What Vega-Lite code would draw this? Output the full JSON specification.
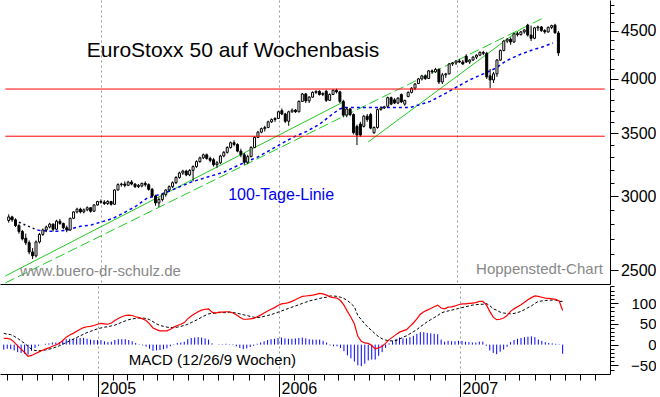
{
"$schema": "https://vega.github.io/schema/vega-lite/v6.json",
"padding": 0,
"spacing": 0,
"background": "#ffffff",
"config": {"view": {"stroke": null}, "font": "Liberation Sans", "axis": {"labelFont": "Liberation Sans", "labelColor": "#000000", "tickColor": "#000000", "domainColor": "#000000"}},
"datasets": {
"w": [
{"d":"2004-06-25","o":2825,"h":2868,"l":2810,"c":2850,"m":15,"s":27,"g":-12},
{"d":"2004-07-02","o":2850,"h":2858,"l":2815,"c":2830,"m":15,"s":25,"g":-10},
{"d":"2004-07-09","o":2830,"h":2840,"l":2780,"c":2790,"m":13,"s":24,"g":-11},
{"d":"2004-07-16","o":2790,"h":2800,"l":2735,"c":2750,"m":6,"s":20,"g":-14},
{"d":"2004-07-23","o":2750,"h":2760,"l":2690,"c":2700,"m":-3,"s":15,"g":-18},
{"d":"2004-07-30","o":2705,"h":2735,"l":2660,"c":2675,"m":-11,"s":9,"g":-20},
{"d":"2004-08-06","o":2675,"h":2690,"l":2600,"c":2615,"m":-19,"s":3,"g":-22},
{"d":"2004-08-13","o":2615,"h":2640,"l":2570,"c":2590,"m":-28,"s":-4,"g":-24},
{"d":"2004-08-20","o":2590,"h":2690,"l":2580,"c":2680,"m":-26,"s":-11,"g":-15},
{"d":"2004-08-27","o":2680,"h":2740,"l":2670,"c":2730,"m":-22,"s":-14,"g":-8},
{"d":"2004-09-03","o":2730,"h":2770,"l":2720,"c":2760,"m":-18,"s":-15,"g":-3},
{"d":"2004-09-10","o":2760,"h":2790,"l":2745,"c":2780,"m":-14,"s":-14,"g":0},
{"d":"2004-09-17","o":2780,"h":2810,"l":2770,"c":2800,"m":-11,"s":-13,"g":2},
{"d":"2004-09-24","o":2800,"h":2805,"l":2750,"c":2765,"m":-8,"s":-11,"g":3},
{"d":"2004-10-01","o":2765,"h":2830,"l":2760,"c":2820,"m":-4,"s":-9,"g":5},
{"d":"2004-10-08","o":2820,"h":2835,"l":2795,"c":2805,"m":-1,"s":-6,"g":5},
{"d":"2004-10-15","o":2805,"h":2810,"l":2765,"c":2775,"m":3,"s":-3,"g":6},
{"d":"2004-10-22","o":2775,"h":2790,"l":2745,"c":2760,"m":10,"s":1,"g":9},
{"d":"2004-10-29","o":2760,"h":2845,"l":2755,"c":2840,"m":18,"s":5,"g":13},
{"d":"2004-11-05","o":2840,"h":2890,"l":2835,"c":2885,"m":23,"s":9,"g":14},
{"d":"2004-11-12","o":2885,"h":2915,"l":2875,"c":2905,"m":27,"s":13,"g":14},
{"d":"2004-11-19","o":2905,"h":2915,"l":2875,"c":2885,"m":32,"s":17,"g":15},
{"d":"2004-11-26","o":2885,"h":2910,"l":2875,"c":2900,"m":37,"s":21,"g":16},
{"d":"2004-12-03","o":2900,"h":2925,"l":2890,"c":2915,"m":41,"s":25,"g":16},
{"d":"2004-12-10","o":2915,"h":2920,"l":2880,"c":2890,"m":43,"s":29,"g":14},
{"d":"2004-12-17","o":2890,"h":2940,"l":2885,"c":2935,"m":44,"s":32,"g":12},
{"d":"2004-12-24","o":2935,"h":2965,"l":2930,"c":2960,"m":46,"s":35,"g":11},
{"d":"2004-12-31","o":2960,"h":2975,"l":2945,"c":2955,"m":49,"s":38,"g":11},
{"d":"2005-01-07","o":2955,"h":2970,"l":2935,"c":2945,"m":51,"s":40,"g":11},
{"d":"2005-01-14","o":2945,"h":2970,"l":2935,"c":2960,"m":50,"s":42,"g":8},
{"d":"2005-01-21","o":2960,"h":2965,"l":2930,"c":2940,"m":49,"s":43,"g":6},
{"d":"2005-01-28","o":2940,"h":3050,"l":2935,"c":3045,"m":52,"s":45,"g":7},
{"d":"2005-02-04","o":3045,"h":3095,"l":3040,"c":3085,"m":58,"s":47,"g":11},
{"d":"2005-02-11","o":3085,"h":3100,"l":3070,"c":3090,"m":63,"s":50,"g":13},
{"d":"2005-02-18","o":3090,"h":3110,"l":3065,"c":3080,"m":67,"s":54,"g":13},
{"d":"2005-02-25","o":3080,"h":3115,"l":3075,"c":3105,"m":70,"s":57,"g":13},
{"d":"2005-03-04","o":3105,"h":3120,"l":3080,"c":3090,"m":71,"s":60,"g":11},
{"d":"2005-03-11","o":3090,"h":3095,"l":3060,"c":3070,"m":70,"s":62,"g":8},
{"d":"2005-03-18","o":3070,"h":3090,"l":3060,"c":3080,"m":67,"s":63,"g":4},
{"d":"2005-03-25","o":3075,"h":3100,"l":3065,"c":3095,"m":65,"s":64,"g":1},
{"d":"2005-04-01","o":3095,"h":3110,"l":3070,"c":3085,"m":62,"s":64,"g":-2},
{"d":"2005-04-08","o":3085,"h":3095,"l":3040,"c":3050,"m":58,"s":63,"g":-5},
{"d":"2005-04-15","o":3050,"h":3060,"l":2990,"c":3000,"m":50,"s":60,"g":-10},
{"d":"2005-04-22","o":3000,"h":3010,"l":2930,"c":2950,"m":40,"s":55,"g":-15},
{"d":"2005-04-29","o":2950,"h":2990,"l":2920,"c":2975,"m":36,"s":50,"g":-14},
{"d":"2005-05-06","o":2975,"h":3020,"l":2960,"c":3010,"m":33,"s":46,"g":-13},
{"d":"2005-05-13","o":3010,"h":3050,"l":2995,"c":3045,"m":33,"s":44,"g":-11},
{"d":"2005-05-20","o":3045,"h":3080,"l":3035,"c":3070,"m":33,"s":42,"g":-9},
{"d":"2005-05-27","o":3070,"h":3110,"l":3060,"c":3100,"m":37,"s":41,"g":-4},
{"d":"2005-06-03","o":3100,"h":3150,"l":3090,"c":3140,"m":42,"s":41,"g":1},
{"d":"2005-06-10","o":3140,"h":3185,"l":3130,"c":3175,"m":46,"s":42,"g":4},
{"d":"2005-06-17","o":3175,"h":3200,"l":3160,"c":3190,"m":49,"s":44,"g":5},
{"d":"2005-06-24","o":3190,"h":3200,"l":3150,"c":3160,"m":53,"s":46,"g":7},
{"d":"2005-07-01","o":3160,"h":3205,"l":3150,"c":3195,"m":62,"s":49,"g":13},
{"d":"2005-07-08","o":3195,"h":3235,"l":3110,"c":3225,"m":69,"s":53,"g":16},
{"d":"2005-07-15","o":3225,"h":3275,"l":3215,"c":3265,"m":74,"s":57,"g":17},
{"d":"2005-07-22","o":3265,"h":3305,"l":3255,"c":3295,"m":79,"s":61,"g":18},
{"d":"2005-07-29","o":3295,"h":3330,"l":3285,"c":3320,"m":83,"s":66,"g":17},
{"d":"2005-08-05","o":3320,"h":3330,"l":3280,"c":3290,"m":85,"s":70,"g":15},
{"d":"2005-08-12","o":3290,"h":3305,"l":3260,"c":3275,"m":86,"s":74,"g":12},
{"d":"2005-08-19","o":3280,"h":3295,"l":3225,"c":3240,"m":78,"s":75,"g":3},
{"d":"2005-08-26","o":3240,"h":3270,"l":3215,"c":3255,"m":76,"s":76,"g":0},
{"d":"2005-09-02","o":3255,"h":3320,"l":3245,"c":3310,"m":78,"s":77,"g":1},
{"d":"2005-09-09","o":3310,"h":3350,"l":3300,"c":3340,"m":78,"s":77,"g":1},
{"d":"2005-09-16","o":3340,"h":3390,"l":3330,"c":3380,"m":79,"s":77,"g":2},
{"d":"2005-09-23","o":3380,"h":3430,"l":3370,"c":3420,"m":79,"s":78,"g":1},
{"d":"2005-09-30","o":3420,"h":3440,"l":3390,"c":3405,"m":76,"s":77,"g":-1},
{"d":"2005-10-07","o":3405,"h":3415,"l":3340,"c":3350,"m":72,"s":76,"g":-4},
{"d":"2005-10-14","o":3350,"h":3370,"l":3300,"c":3320,"m":66,"s":74,"g":-8},
{"d":"2005-10-21","o":3320,"h":3335,"l":3240,"c":3260,"m":61,"s":72,"g":-11},
{"d":"2005-10-28","o":3260,"h":3320,"l":3245,"c":3305,"m":61,"s":70,"g":-9},
{"d":"2005-11-04","o":3305,"h":3390,"l":3300,"c":3380,"m":62,"s":68,"g":-6},
{"d":"2005-11-11","o":3380,"h":3475,"l":3375,"c":3465,"m":63,"s":66,"g":-3},
{"d":"2005-11-18","o":3465,"h":3520,"l":3460,"c":3510,"m":67,"s":65,"g":2},
{"d":"2005-11-25","o":3510,"h":3550,"l":3500,"c":3540,"m":71,"s":66,"g":5},
{"d":"2005-12-02","o":3540,"h":3565,"l":3515,"c":3550,"m":76,"s":68,"g":8},
{"d":"2005-12-09","o":3550,"h":3610,"l":3545,"c":3600,"m":81,"s":70,"g":11},
{"d":"2005-12-16","o":3600,"h":3630,"l":3590,"c":3620,"m":85,"s":72,"g":13},
{"d":"2005-12-23","o":3620,"h":3640,"l":3600,"c":3630,"m":89,"s":75,"g":14},
{"d":"2005-12-30","o":3630,"h":3700,"l":3625,"c":3690,"m":94,"s":78,"g":16},
{"d":"2006-01-06","o":3700,"h":3720,"l":3660,"c":3670,"m":98,"s":81,"g":17},
{"d":"2006-01-13","o":3670,"h":3680,"l":3590,"c":3605,"m":99,"s":84,"g":15},
{"d":"2006-01-20","o":3605,"h":3700,"l":3565,"c":3690,"m":101,"s":87,"g":14},
{"d":"2006-01-27","o":3690,"h":3720,"l":3680,"c":3705,"m":104,"s":90,"g":14},
{"d":"2006-02-03","o":3705,"h":3715,"l":3680,"c":3690,"m":108,"s":93,"g":15},
{"d":"2006-02-10","o":3690,"h":3795,"l":3685,"c":3785,"m":112,"s":96,"g":16},
{"d":"2006-02-17","o":3785,"h":3865,"l":3780,"c":3855,"m":116,"s":99,"g":17},
{"d":"2006-02-24","o":3855,"h":3865,"l":3770,"c":3790,"m":117,"s":102,"g":15},
{"d":"2006-03-03","o":3790,"h":3835,"l":3770,"c":3825,"m":118,"s":105,"g":13},
{"d":"2006-03-10","o":3825,"h":3880,"l":3820,"c":3870,"m":119,"s":107,"g":12},
{"d":"2006-03-17","o":3870,"h":3890,"l":3855,"c":3880,"m":121,"s":109,"g":12},
{"d":"2006-03-24","o":3880,"h":3890,"l":3840,"c":3850,"m":123,"s":111,"g":12},
{"d":"2006-03-31","o":3850,"h":3870,"l":3835,"c":3860,"m":122,"s":113,"g":9},
{"d":"2006-04-07","o":3880,"h":3895,"l":3780,"c":3795,"m":119,"s":114,"g":5},
{"d":"2006-04-14","o":3795,"h":3860,"l":3790,"c":3850,"m":115,"s":117,"g":-2},
{"d":"2006-04-21","o":3850,"h":3900,"l":3845,"c":3890,"m":113,"s":117,"g":-4},
{"d":"2006-04-28","o":3890,"h":3905,"l":3860,"c":3875,"m":112,"s":116,"g":-4},
{"d":"2006-05-05","o":3875,"h":3885,"l":3770,"c":3785,"m":106,"s":114,"g":-8},
{"d":"2006-05-12","o":3785,"h":3800,"l":3640,"c":3660,"m":95,"s":111,"g":-16},
{"d":"2006-05-19","o":3660,"h":3730,"l":3640,"c":3715,"m":80,"s":106,"g":-26},
{"d":"2006-05-26","o":3715,"h":3725,"l":3650,"c":3665,"m":66,"s":99,"g":-33},
{"d":"2006-06-02","o":3665,"h":3675,"l":3490,"c":3505,"m":50,"s":91,"g":-41},
{"d":"2006-06-09","o":3560,"h":3575,"l":3400,"c":3485,"m":20,"s":70,"g":-50},
{"d":"2006-06-16","o":3580,"h":3600,"l":3470,"c":3485,"m":8,"s":60,"g":-52},
{"d":"2006-06-23","o":3560,"h":3660,"l":3550,"c":3650,"m":4,"s":50,"g":-46},
{"d":"2006-06-30","o":3650,"h":3670,"l":3600,"c":3620,"m":3,"s":41,"g":-38},
{"d":"2006-07-07","o":3665,"h":3680,"l":3535,"c":3545,"m":-2,"s":34,"g":-36},
{"d":"2006-07-14","o":3505,"h":3560,"l":3495,"c":3550,"m":-10,"s":26,"g":-36},
{"d":"2006-07-21","o":3550,"h":3720,"l":3540,"c":3710,"m":-8,"s":19,"g":-27},
{"d":"2006-07-28","o":3710,"h":3740,"l":3700,"c":3725,"m":-4,"s":14,"g":-18},
{"d":"2006-08-04","o":3725,"h":3745,"l":3715,"c":3735,"m":3,"s":11,"g":-8},
{"d":"2006-08-11","o":3740,"h":3830,"l":3735,"c":3820,"m":12,"s":9,"g":3},
{"d":"2006-08-18","o":3820,"h":3830,"l":3750,"c":3760,"m":18,"s":9,"g":9},
{"d":"2006-08-25","o":3800,"h":3815,"l":3760,"c":3770,"m":24,"s":10,"g":14},
{"d":"2006-09-01","o":3770,"h":3825,"l":3760,"c":3815,"m":30,"s":13,"g":17},
{"d":"2006-09-08","o":3850,"h":3860,"l":3770,"c":3780,"m":33,"s":18,"g":15},
{"d":"2006-09-15","o":3760,"h":3800,"l":3745,"c":3795,"m":36,"s":21,"g":15},
{"d":"2006-09-22","o":3830,"h":3880,"l":3825,"c":3870,"m":44,"s":26,"g":18},
{"d":"2006-09-29","o":3870,"h":3920,"l":3860,"c":3910,"m":52,"s":31,"g":21},
{"d":"2006-10-06","o":3910,"h":3960,"l":3890,"c":3950,"m":62,"s":36,"g":26},
{"d":"2006-10-13","o":3955,"h":4010,"l":3950,"c":4000,"m":73,"s":43,"g":30},
{"d":"2006-10-20","o":4000,"h":4040,"l":3985,"c":4030,"m":79,"s":49,"g":30},
{"d":"2006-10-27","o":4030,"h":4045,"l":3990,"c":4005,"m":83,"s":55,"g":28},
{"d":"2006-11-03","o":4005,"h":4090,"l":4000,"c":4080,"m":87,"s":60,"g":27},
{"d":"2006-11-10","o":4080,"h":4095,"l":4050,"c":4070,"m":91,"s":65,"g":26},
{"d":"2006-11-17","o":4070,"h":4110,"l":4060,"c":4095,"m":95,"s":70,"g":25},
{"d":"2006-11-24","o":4095,"h":4105,"l":3950,"c":3970,"m":88,"s":76,"g":12},
{"d":"2006-12-01","o":3970,"h":4060,"l":3950,"c":4040,"m":86,"s":79,"g":7},
{"d":"2006-12-08","o":4040,"h":4060,"l":4010,"c":4050,"m":90,"s":81,"g":9},
{"d":"2006-12-15","o":4050,"h":4160,"l":4045,"c":4150,"m":91,"s":83,"g":8},
{"d":"2006-12-22","o":4150,"h":4170,"l":4130,"c":4160,"m":93,"s":85,"g":8},
{"d":"2006-12-29","o":4160,"h":4190,"l":4140,"c":4180,"m":96,"s":87,"g":9},
{"d":"2007-01-05","o":4180,"h":4200,"l":4160,"c":4170,"m":98,"s":89,"g":9},
{"d":"2007-01-12","o":4170,"h":4190,"l":4140,"c":4150,"m":98,"s":91,"g":7},
{"d":"2007-01-19","o":4230,"h":4250,"l":4160,"c":4170,"m":99,"s":93,"g":6},
{"d":"2007-01-26","o":4170,"h":4200,"l":4150,"c":4190,"m":100,"s":95,"g":5},
{"d":"2007-02-02","o":4190,"h":4230,"l":4180,"c":4220,"m":101,"s":96,"g":5},
{"d":"2007-02-09","o":4220,"h":4250,"l":4200,"c":4240,"m":104,"s":97,"g":7},
{"d":"2007-02-16","o":4240,"h":4280,"l":4230,"c":4270,"m":104,"s":97,"g":7},
{"d":"2007-02-23","o":4270,"h":4285,"l":4240,"c":4260,"m":96,"s":99,"g":-3},
{"d":"2007-03-02","o":4260,"h":4275,"l":4000,"c":4020,"m":80,"s":94,"g":-14},
{"d":"2007-03-09","o":4030,"h":4100,"l":3910,"c":3990,"m":66,"s":86,"g":-20},
{"d":"2007-03-16","o":3990,"h":4070,"l":3960,"c":4050,"m":60,"s":83,"g":-23},
{"d":"2007-03-23","o":4050,"h":4200,"l":4020,"c":4190,"m":61,"s":78,"g":-17},
{"d":"2007-03-30","o":4190,"h":4300,"l":4180,"c":4290,"m":64,"s":76,"g":-12},
{"d":"2007-04-06","o":4290,"h":4400,"l":4280,"c":4390,"m":70,"s":75,"g":-5},
{"d":"2007-04-13","o":4390,"h":4420,"l":4370,"c":4410,"m":80,"s":74,"g":6},
{"d":"2007-04-20","o":4410,"h":4430,"l":4350,"c":4380,"m":86,"s":75,"g":11},
{"d":"2007-04-27","o":4380,"h":4480,"l":4370,"c":4470,"m":91,"s":77,"g":14},
{"d":"2007-05-04","o":4470,"h":4490,"l":4440,"c":4460,"m":96,"s":80,"g":16},
{"d":"2007-05-11","o":4460,"h":4500,"l":4450,"c":4490,"m":102,"s":84,"g":18},
{"d":"2007-05-18","o":4490,"h":4520,"l":4470,"c":4510,"m":108,"s":89,"g":19},
{"d":"2007-05-25","o":4565,"h":4580,"l":4440,"c":4455,"m":113,"s":93,"g":20},
{"d":"2007-06-01","o":4455,"h":4560,"l":4390,"c":4420,"m":117,"s":99,"g":18},
{"d":"2007-06-08","o":4420,"h":4545,"l":4410,"c":4535,"m":116,"s":104,"g":12},
{"d":"2007-06-15","o":4535,"h":4560,"l":4500,"c":4545,"m":114,"s":105,"g":9},
{"d":"2007-06-22","o":4545,"h":4555,"l":4490,"c":4505,"m":112,"s":106,"g":6},
{"d":"2007-06-29","o":4505,"h":4520,"l":4470,"c":4490,"m":111,"s":107,"g":4},
{"d":"2007-07-06","o":4490,"h":4550,"l":4480,"c":4540,"m":110,"s":107,"g":3},
{"d":"2007-07-13","o":4540,"h":4570,"l":4520,"c":4560,"m":109,"s":107,"g":2},
{"d":"2007-07-20","o":4565,"h":4580,"l":4470,"c":4480,"m":105,"s":104,"g":1},
{"d":"2007-07-27","o":4478,"h":4500,"l":4233,"c":4264,"m":82,"s":104,"g":-22}
]
},
"vconcat": [
{
"width": 610,
"height": 284,
"encoding": {
  "x": {"field": "d", "type": "temporal", "title": null, "scale": {"domain": [{"year": 2004, "month": 6, "date": 17, "hours": 10}, {"year": 2007, "month": 10, "date": 30, "hours": 12}]},
    "axis": {"values": [{"year": 2005, "month": 1, "date": 1}, {"year": 2006, "month": 1, "date": 1}, {"year": 2007, "month": 1, "date": 1}], "grid": true, "gridColor": "#999999", "gridDash": [2, 3], "ticks": false, "labels": false, "domain": true, "title": null}},
  "y": {"field": "v", "type": "quantitative", "title": null, "scale": {"type": "log", "domain": [2417, 4856], "nice": false, "zero": false},
    "axis": {"orient": "right", "title": null, "grid": false, "values": [2500,2600,2700,2800,2900,3000,3100,3200,3300,3400,3500,3600,3700,3800,3900,4000,4100,4200,4300,4400,4500,4600,4700,4800],
      "labelExpr": "datum.value % 500 === 0 ? format(datum.value, 'd') : ''",
      "tickSize": {"condition": {"test": "datum.value % 500 === 0", "value": 8}, "value": 4},
      "labelFontSize": {"condition": {"test": "datum.value % 500 === 0", "value": 16}, "value": 1},
      "labelAlign": "right", "labelBaseline": "middle", "labelPadding": 38, "labelOverlap": false, "labelBound": false, "labelFlush": false}}
},
"layer": [
{"data": {"values": [{"id": "A", "d": "2004-06-18", "v": 2465}, {"id": "A", "d": "2006-05-14", "v": 3785}, {"id": "D", "d": "2006-07-02", "v": 3426}, {"id": "D", "d": "2007-05-11", "v": 4522}]},
 "mark": {"type": "line", "color": "#22cc22", "strokeWidth": 1},
 "encoding": {"detail": {"field": "id"}}},
{"data": {"values": [{"d": "2004-06-18", "v": 2423}, {"d": "2007-06-30", "v": 4657}]},
 "mark": {"type": "line", "color": "#22cc22", "strokeWidth": 1, "strokeDash": [10, 4]}},
{"data": {"values": [{"d": "2004-06-27", "v": 2840}, {"d": "2004-08-23", "v": 2759}]},
 "mark": {"type": "line", "color": "#000033", "strokeWidth": 1.5, "strokeDash": [2, 3]}},
{"data": {"values": [{"d":"2004-08-23","v":2759},{"d":"2004-09-12","v":2752},{"d":"2004-10-02","v":2752},{"d":"2004-10-22","v":2759},{"d":"2004-11-19","v":2785},{"d":"2004-12-09","v":2792},{"d":"2005-01-05","v":2819},{"d":"2005-01-25","v":2840},{"d":"2005-02-14","v":2875},{"d":"2005-03-12","v":2924},{"d":"2005-04-05","v":2985},{"d":"2005-05-06","v":3017},{"d":"2005-06-01","v":3054},{"d":"2005-07-05","v":3106},{"d":"2005-08-08","v":3145},{"d":"2005-09-10","v":3183},{"d":"2005-10-14","v":3245},{"d":"2005-11-17","v":3301},{"d":"2005-12-20","v":3374},{"d":"2006-01-03","v":3407},{"d":"2006-01-29","v":3466},{"d":"2006-02-26","v":3517},{"d":"2006-03-24","v":3578},{"d":"2006-04-19","v":3666},{"d":"2006-05-03","v":3711},{"d":"2006-05-13","v":3730},{"d":"2006-08-12","v":3730},{"d":"2006-09-27","v":3730},{"d":"2006-11-06","v":3785},{"d":"2006-12-11","v":3869},{"d":"2007-01-01","v":3926},{"d":"2007-01-27","v":3993},{"d":"2007-02-24","v":4052},{"d":"2007-03-22","v":4111},{"d":"2007-04-11","v":4182},{"d":"2007-05-07","v":4243},{"d":"2007-06-04","v":4296},{"d":"2007-06-24","v":4327},{"d":"2007-07-16","v":4370}]},
 "mark": {"type": "line", "color": "#0000ff", "strokeWidth": 1.5, "strokeDash": [3, 3]}},
{"data": {"name": "w"},
 "mark": {"type": "rule", "color": "#000000", "strokeWidth": 1},
 "encoding": {
   "y": {"field": "l", "type": "quantitative", "title": null, "scale": {"type": "log", "domain": [2417, 4856], "nice": false, "zero": false}},
   "y2": {"field": "h"}}},
{"data": {"name": "w"},
 "mark": {"type": "bar", "size": 2, "stroke": "#000000", "strokeWidth": 1},
 "encoding": {
   "y": {"field": "o", "type": "quantitative", "title": null, "scale": {"type": "log", "domain": [2417, 4856], "nice": false, "zero": false}},
   "y2": {"field": "c"},
   "fill": {"condition": {"test": "datum.c < datum.o", "value": "#000000"}, "value": "#ffffff"}}},
{"data": {"values": [{"d": "2004-12-02", "v": 4225, "t": "EuroStoxx 50 auf Wochenbasis"}]},
 "mark": {"type": "text", "align": "left", "baseline": "alphabetic", "fontSize": 21, "color": "#000000"},
 "encoding": {"text": {"field": "t"}}},
{"data": {"values": [{"d": "2005-09-18", "v": 2971, "t": "100-Tage-Linie"}]},
 "mark": {"type": "text", "align": "left", "baseline": "alphabetic", "fontSize": 16, "color": "#0000ee"},
 "encoding": {"text": {"field": "t"}}},
{"data": {"values": [{"d": "2004-07-18", "v": 2465, "t": "www.buero-dr-schulz.de"}]},
 "mark": {"type": "text", "align": "left", "baseline": "alphabetic", "fontSize": 15, "color": "#888888"},
 "encoding": {"text": {"field": "t"}}},
{"data": {"values": [{"d": "2007-10-26", "v": 2476, "t": "Hoppenstedt-Chart"}]},
 "mark": {"type": "text", "align": "right", "baseline": "alphabetic", "fontSize": 15, "color": "#888888"},
 "encoding": {"text": {"field": "t"}}},
{"data": {"values": [{"d": "2004-06-18", "d2": "2007-10-30", "v": 3902}, {"d": "2004-06-18", "d2": "2007-10-30", "v": 3475}]},
 "mark": {"type": "rule", "color": "#ff0000", "strokeWidth": 1, "clip": true},
 "encoding": {"x": {"field": "d", "type": "temporal", "title": null, "scale": {"domain": [{"year": 2004, "month": 6, "date": 17, "hours": 10}, {"year": 2007, "month": 10, "date": 30, "hours": 12}]}}, "x2": {"field": "d2"}}}
]
},
{
"width": 610,
"height": 88,
"encoding": {
  "x": {"field": "d", "type": "temporal", "title": null, "scale": {"domain": [{"year": 2004, "month": 6, "date": 17, "hours": 10}, {"year": 2007, "month": 10, "date": 30, "hours": 12}]},
    "axis": {"title": null, "tickCount": {"interval": "month", "step": 1},
      "labelExpr": "month(datum.value) === 0 ? timeFormat(datum.value, '%Y') : ''",
      "tickSize": {"condition": {"test": "month(datum.value) === 0", "value": 24}, "value": 6},
      "labelFontSize": {"condition": {"test": "month(datum.value) === 0", "value": 16}, "value": 1},
      "grid": true, "gridColor": "#999999", "gridDash": [2, 3],
      "gridOpacity": {"condition": {"test": "month(datum.value) === 0", "value": 1}, "value": 0},
      "labelAlign": "left", "labelBaseline": "top", "labelOffset": 2, "labelPadding": -18, "labelOverlap": false, "labelFlush": false, "labelBound": false}},
  "y": {"field": "g", "type": "quantitative", "title": null, "scale": {"domain": [-70.7, 141], "nice": false, "zero": false},
    "axis": {"orient": "right", "title": null, "grid": false, "values": [-60,-50,-40,-30,-20,-10,0,10,20,30,40,50,60,70,80,90,100,110,120,130,140],
      "labelExpr": "datum.value % 50 === 0 ? format(datum.value, 'd') : ''",
      "tickSize": {"condition": {"test": "datum.value % 50 === 0", "value": 8}, "value": 4},
      "labelFontSize": {"condition": {"test": "datum.value % 50 === 0", "value": 15}, "value": 1},
      "labelAlign": "right", "labelBaseline": "middle", "labelPadding": 38, "labelOverlap": false, "labelBound": false, "labelFlush": false}}
},
"layer": [
{"data": {"name": "w"},
 "mark": {"type": "rule", "color": "#0000ff", "strokeWidth": 1},
 "encoding": {"y2": {"datum": 0}}},
{"data": {"name": "w"},
 "mark": {"type": "line", "color": "#000000", "strokeWidth": 1, "strokeDash": [3, 2]},
 "encoding": {"y": {"field": "s", "type": "quantitative", "title": null, "scale": {"domain": [-70.7, 141], "nice": false, "zero": false}}}},
{"data": {"name": "w"},
 "mark": {"type": "line", "color": "#ff0000", "strokeWidth": 1.2},
 "encoding": {"y": {"field": "m", "type": "quantitative", "title": null, "scale": {"domain": [-70.7, 141], "nice": false, "zero": false}}}},
{"data": {"values": [{"d": "2005-03-04", "v": -49.3, "t": "MACD (12/26/9 Wochen)"}]},
 "mark": {"type": "text", "align": "left", "baseline": "alphabetic", "fontSize": 15, "color": "#000000"},
 "encoding": {"y": {"field": "v", "type": "quantitative", "title": null, "scale": {"domain": [-70.7, 141], "nice": false, "zero": false}}, "text": {"field": "t"}}}
]
}
]
}
